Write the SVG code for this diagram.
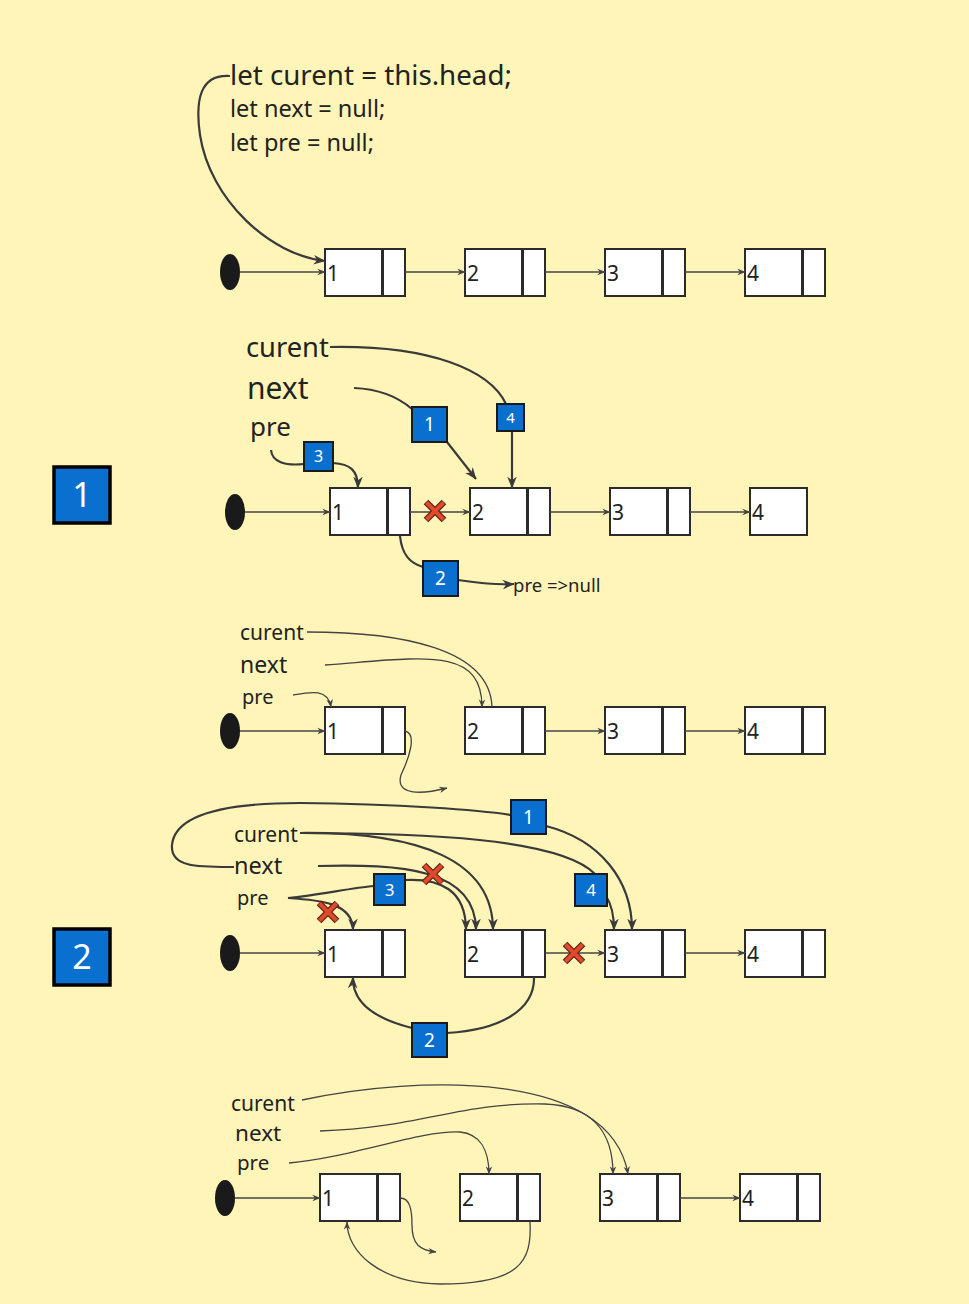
<svg xmlns="http://www.w3.org/2000/svg" xmlns:xlink="http://www.w3.org/1999/xlink" width="969" height="1304" viewBox="0 0 969 1304">
<style>
.t{font-family:"Noto Sans","Open Sans",sans-serif;fill:#222}
.d{fill:#fff;stroke:#2b2b2b;stroke-width:2}
.lbl{font-family:"Noto Sans","Open Sans",sans-serif;font-size:21px;fill:#222}
.dot{fill:#1a1a1a}
.ln{fill:none;stroke:#444;stroke-width:1.3}
.th{fill:none;stroke:#3a3a3a;stroke-width:2.2}
.bb{fill:#0A70CF;stroke:#1b1b1b;stroke-width:2}
.bbig{fill:#0A70CF;stroke:#000;stroke-width:3.5}
.bn{font-family:"Noto Sans","Open Sans",sans-serif;fill:#fff;text-anchor:middle}
</style>
<defs>
<marker id="as" viewBox="0 0 10 10" refX="9.5" refY="5" markerWidth="8" markerHeight="8" orient="auto" markerUnits="userSpaceOnUse"><path d="M0,1 L10,5 L0,9 L3,5 z" fill="#444"/></marker>
<marker id="ab" viewBox="0 0 10 10" refX="9.5" refY="5" markerWidth="12" markerHeight="12" orient="auto" markerUnits="userSpaceOnUse"><path d="M0,1 L10,5 L0,9 L3,5 z" fill="#3a3a3a"/></marker>
<g id="x"><path d="M-9,-9 L9,9 M-9,9 L9,-9" stroke="#5a2418" stroke-width="6.5" fill="none"/><path d="M-8.5,-8.5 L8.5,8.5 M-8.5,8.5 L8.5,-8.5" stroke="#E0492C" stroke-width="4" fill="none"/></g>
</defs>
<rect width="969" height="1304" fill="#FFF5B8"/>

<!-- Section 0 -->
<g id="code">
<text class="t" x="230" y="85" font-size="27.7">let curent = this.head;</text>
<text class="t" x="230" y="117" font-size="23.5">let next = null;</text>
<text class="t" x="230" y="151" font-size="23.5">let pre = null;</text>
</g>
<g id="s0-head"><ellipse class="dot" cx="230" cy="272" rx="10" ry="18"/></g>
<g id="s0-n1"><rect class="d" x="325" y="249" width="57" height="47"/><rect class="d" x="383" y="249" width="22" height="47"/><text class="lbl" x="327" y="281">1</text></g>
<g id="s0-n2"><rect class="d" x="465" y="249" width="57" height="47"/><rect class="d" x="523" y="249" width="22" height="47"/><text class="lbl" x="467" y="281">2</text></g>
<g id="s0-n3"><rect class="d" x="605" y="249" width="57" height="47"/><rect class="d" x="663" y="249" width="22" height="47"/><text class="lbl" x="607" y="281">3</text></g>
<g id="s0-n4"><rect class="d" x="745" y="249" width="57" height="47"/><rect class="d" x="803" y="249" width="22" height="47"/><text class="lbl" x="747" y="281">4</text></g>
<g id="s0-conn">
<path class="ln" d="M240,272 L325,272" marker-end="url(#as)"/>
<path class="ln" d="M405,272 L465,272" marker-end="url(#as)"/>
<path class="ln" d="M545,272 L605,272" marker-end="url(#as)"/>
<path class="ln" d="M685,272 L745,272" marker-end="url(#as)"/>
<path class="th" d="M230,76 C 200,74 195,100 200,135 C 210,200 270,255 325,261" marker-end="url(#ab)"/>
</g>

<!-- Section 1 -->
<g id="step1"><rect class="bbig" x="54" y="467" width="56" height="56"/><text class="bn" x="82" y="507" font-size="34">1</text></g>
<g id="s1-vars">
<text class="t" x="246" y="357" font-size="27.3">curent</text>
<text class="t" x="247" y="399" font-size="30">next</text>
<text class="t" x="250" y="436" font-size="26">pre</text>
</g>
<g id="s1-head"><ellipse class="dot" cx="235" cy="512" rx="10" ry="18"/></g>
<g id="s1-n1"><rect class="d" x="330" y="488" width="57" height="47"/><rect class="d" x="388" y="488" width="22" height="47"/><text class="lbl" x="332" y="520">1</text></g>
<g id="s1-n2"><rect class="d" x="470" y="488" width="57" height="47"/><rect class="d" x="528" y="488" width="22" height="47"/><text class="lbl" x="472" y="520">2</text></g>
<g id="s1-n3"><rect class="d" x="610" y="488" width="57" height="47"/><rect class="d" x="668" y="488" width="22" height="47"/><text class="lbl" x="612" y="520">3</text></g>
<g id="s1-n4"><rect class="d" x="750" y="488" width="57" height="47"/><text class="lbl" x="752" y="520">4</text></g>
<g id="s1-conn">
<path class="ln" d="M245,512 L330,512" marker-end="url(#as)"/>
<path class="ln" d="M410,512 L470,512" marker-end="url(#as)"/>
<path class="ln" d="M550,512 L610,512" marker-end="url(#as)"/>
<path class="ln" d="M690,512 L750,512" marker-end="url(#as)"/>
<path class="th" d="M330,347 C 430,345 490,370 506,404"/>
<path class="th" d="M512,431 L512,488" marker-end="url(#ab)"/>
<path class="th" d="M354,388 C 380,389 398,397 412,409"/>
<path class="th" d="M447,442 L476,479" marker-end="url(#ab)"/>
<path class="th" d="M271,450 C 272,462 285,466 304,464"/>
<path class="th" d="M333,463 C 350,464 358,470 358,488" marker-end="url(#ab)"/>
<path class="th" d="M400,536 C 402,555 410,563 423,567"/>
<path class="th" d="M458,580 C 480,583 495,585 514,584" marker-end="url(#ab)"/>
<use href="#x" x="435" y="511"/>
</g>
<g id="s1-b1"><rect class="bb" x="412" y="407" width="35" height="35"/><text class="bn" x="429.5" y="431" font-size="19">1</text></g>
<g id="s1-b4"><rect class="bb" x="497" y="404" width="27" height="27"/><text class="bn" x="510.5" y="423" font-size="15">4</text></g>
<g id="s1-b3"><rect class="bb" x="304" y="442" width="29" height="29"/><text class="bn" x="318.5" y="462" font-size="16">3</text></g>
<g id="s1-b2"><rect class="bb" x="423" y="561" width="35" height="35"/><text class="bn" x="440.5" y="585" font-size="19">2</text></g>
<g id="s1-note"><text class="t" x="513" y="592" font-size="18.5">pre =&gt;null</text></g>

<!-- Section 2 -->
<g id="s2-vars">
<text class="t" x="240" y="640" font-size="21">curent</text>
<text class="t" x="240" y="673" font-size="23">next</text>
<text class="t" x="242" y="704" font-size="20">pre</text>
</g>
<g id="s2-head"><ellipse class="dot" cx="230" cy="731" rx="10" ry="18"/></g>
<g id="s2-n1"><rect class="d" x="325" y="707" width="57" height="47"/><rect class="d" x="383" y="707" width="22" height="47"/><text class="lbl" x="327" y="739">1</text></g>
<g id="s2-n2"><rect class="d" x="465" y="707" width="57" height="47"/><rect class="d" x="523" y="707" width="22" height="47"/><text class="lbl" x="467" y="739">2</text></g>
<g id="s2-n3"><rect class="d" x="605" y="707" width="57" height="47"/><rect class="d" x="663" y="707" width="22" height="47"/><text class="lbl" x="607" y="739">3</text></g>
<g id="s2-n4"><rect class="d" x="745" y="707" width="57" height="47"/><rect class="d" x="803" y="707" width="22" height="47"/><text class="lbl" x="747" y="739">4</text></g>
<g id="s2-conn">
<path class="ln" d="M240,731 L325,731" marker-end="url(#as)"/>
<path class="ln" d="M545,731 L605,731" marker-end="url(#as)"/>
<path class="ln" d="M685,731 L745,731" marker-end="url(#as)"/>
<path class="ln" d="M307,632 C 400,632 490,648 492,707"/>
<path class="ln" d="M325,665 C 420,658 482,645 482,707" marker-end="url(#as)"/>
<path class="ln" d="M293,695 C 310,692 328,688 331,707" marker-end="url(#as)"/>
<path class="ln" d="M405,731 C 418,734 408,760 401,775 C 395,795 420,795 447,788" marker-end="url(#as)"/>
</g>

<!-- Section 3 -->
<g id="step2"><rect class="bbig" x="54" y="929" width="56" height="56"/><text class="bn" x="82" y="969" font-size="34">2</text></g>
<g id="s3-vars">
<text class="t" x="234" y="842" font-size="21">curent</text>
<text class="t" x="234" y="874" font-size="23.5">next</text>
<text class="t" x="237" y="905" font-size="20">pre</text>
</g>
<g id="s3-head"><ellipse class="dot" cx="230" cy="953" rx="10" ry="18"/></g>
<g id="s3-n1"><rect class="d" x="325" y="930" width="57" height="47"/><rect class="d" x="383" y="930" width="22" height="47"/><text class="lbl" x="327" y="962">1</text></g>
<g id="s3-n2"><rect class="d" x="465" y="930" width="57" height="47"/><rect class="d" x="523" y="930" width="22" height="47"/><text class="lbl" x="467" y="962">2</text></g>
<g id="s3-n3"><rect class="d" x="605" y="930" width="57" height="47"/><rect class="d" x="663" y="930" width="22" height="47"/><text class="lbl" x="607" y="962">3</text></g>
<g id="s3-n4"><rect class="d" x="745" y="930" width="57" height="47"/><rect class="d" x="803" y="930" width="22" height="47"/><text class="lbl" x="747" y="962">4</text></g>
<g id="s3-conn">
<path class="ln" d="M240,953 L325,953" marker-end="url(#as)"/>
<path class="ln" d="M545,953 L605,953" marker-end="url(#as)"/>
<path class="ln" d="M685,953 L745,953" marker-end="url(#as)"/>
<path class="th" d="M234,867 C 200,867 170,868 172,845 C 175,812 235,803 300,803 C 400,804 480,810 511,815"/>
<path class="th" d="M546,826 C 600,840 632,880 632,930" marker-end="url(#ab)"/>
<path class="th" d="M300,833 C 420,832 493,860 493,930" marker-end="url(#ab)"/>
<path class="th" d="M300,833 C 420,833 560,838 595,874"/>
<path class="th" d="M606,896 C 612,905 614,915 614,930" marker-end="url(#ab)"/>
<path class="th" d="M318,866 C 400,864 476,868 476,930" marker-end="url(#ab)"/>
<path class="th" d="M288,898 C 320,895 350,888 374,886"/>
<path class="th" d="M405,880 C 440,878 466,890 466,930" marker-end="url(#ab)"/>
<path class="th" d="M288,898 C 320,900 353,903 353,930" marker-end="url(#ab)"/>
<path class="th" d="M534,977 C 535,1010 500,1030 447,1033"/>
<path class="th" d="M412,1028 C 380,1020 352,1005 353,977" marker-end="url(#ab)"/>
<use href="#x" x="433" y="874"/>
<use href="#x" x="328" y="912"/>
<use href="#x" x="574" y="953"/>
</g>
<g id="s3-b1"><rect class="bb" x="511" y="800" width="35" height="34"/><text class="bn" x="528.5" y="824" font-size="19">1</text></g>
<g id="s3-b3"><rect class="bb" x="374" y="874" width="31" height="31"/><text class="bn" x="389.5" y="896" font-size="17">3</text></g>
<g id="s3-b4"><rect class="bb" x="575" y="874" width="32" height="32"/><text class="bn" x="591" y="896" font-size="17">4</text></g>
<g id="s3-b2"><rect class="bb" x="412" y="1023" width="35" height="34"/><text class="bn" x="429.5" y="1047" font-size="19">2</text></g>

<!-- Section 4 -->
<g id="s4-vars">
<text class="t" x="231" y="1111" font-size="21">curent</text>
<text class="t" x="235" y="1141" font-size="22.5">next</text>
<text class="t" x="237" y="1170" font-size="20.5">pre</text>
</g>
<g id="s4-head"><ellipse class="dot" cx="225" cy="1198" rx="10" ry="18"/></g>
<g id="s4-n1"><rect class="d" x="320" y="1174" width="57" height="47"/><rect class="d" x="378" y="1174" width="22" height="47"/><text class="lbl" x="322" y="1206">1</text></g>
<g id="s4-n2"><rect class="d" x="460" y="1174" width="57" height="47"/><rect class="d" x="518" y="1174" width="22" height="47"/><text class="lbl" x="462" y="1206">2</text></g>
<g id="s4-n3"><rect class="d" x="600" y="1174" width="57" height="47"/><rect class="d" x="658" y="1174" width="22" height="47"/><text class="lbl" x="602" y="1206">3</text></g>
<g id="s4-n4"><rect class="d" x="740" y="1174" width="57" height="47"/><rect class="d" x="798" y="1174" width="22" height="47"/><text class="lbl" x="742" y="1206">4</text></g>
<g id="s4-conn">
<path class="ln" d="M235,1198 L320,1198" marker-end="url(#as)"/>
<path class="ln" d="M680,1198 L740,1198" marker-end="url(#as)"/>
<path class="ln" d="M302,1100 C 420,1075 610,1070 628,1174" marker-end="url(#as)"/>
<path class="ln" d="M320,1131 C 420,1128 460,1102 545,1104 C 595,1106 613,1135 613,1174" marker-end="url(#as)"/>
<path class="ln" d="M289,1163 C 350,1158 420,1130 460,1132 C 480,1134 489,1150 489,1174" marker-end="url(#as)"/>
<path class="ln" d="M400,1198 C 410,1198 412,1210 412,1225 C 412,1245 420,1250 436,1252" marker-end="url(#as)"/>
<path class="ln" d="M530,1222 C 532,1262 520,1284 440,1284 C 380,1283 347,1252 347,1222" marker-end="url(#as)"/>
</g>
</svg>
